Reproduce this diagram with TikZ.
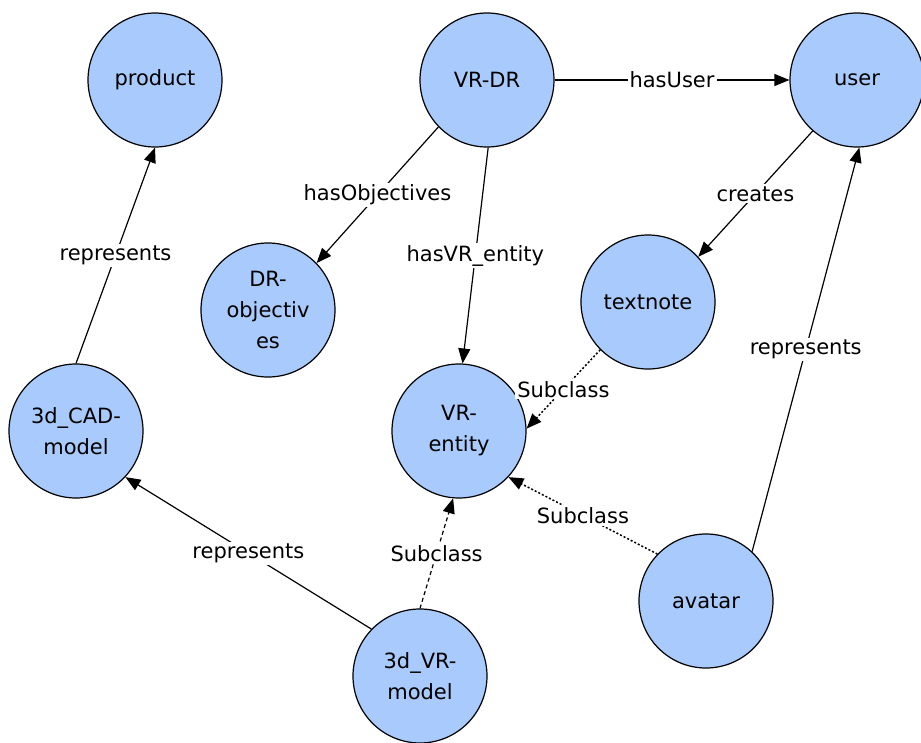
\documentclass[tikz,border=0pt]{standalone}
\usepackage{fontspec}
\setmainfont{DejaVu Sans}
\usetikzlibrary{arrows.meta}
\definecolor{nodeblue}{RGB}{168,202,252}
\tikzset{
  concept/.style={circle,draw,line width=1.2pt,fill=nodeblue,minimum size=134pt,
    inner sep=0pt,align=center,font=\fontsize{21}{31}\selectfont},
  rel/.style={-{Triangle[length=15pt,width=12pt]},line width=1.2pt},
  subdot/.style={rel,line width=1.5pt,dash pattern=on 2pt off 2pt},
  subdash/.style={rel,dash pattern=on 4pt off 3pt},
  lbl/.style={fill=white,inner sep=2pt,font=\fontsize{21}{25}\selectfont},
}
\begin{document}
\begin{tikzpicture}[x=1pt,y=-1pt]
\useasboundingbox (0,0) rectangle (921,742);
% concepts
\node[concept] (product) at (155,80) {product};
\node[concept] (vrdr) at (487,80) {VR-DR};
\node[concept] (user) at (857,80) {user};
\node[concept] (drobj) at (268,310) {DR-\\objectiv\\es};
\node[concept] (textnote) at (648,302) {textnote};
\node[concept] (vrentity) at (459,431) {VR-\\entity};
\node[concept] (cadmodel) at (76,431) {3d\_CAD-\\model};
\node[concept] (avatar) at (706,601) {avatar};
\node[concept] (vrmodel) at (420,676) {3d\_VR-\\model};
% relations
\draw[rel] (vrdr.east) -- node[lbl] {hasUser} (user.west);
\draw[rel] (vrdr.224) -- node[lbl] {hasObjectives} (drobj.44);
\draw[rel] (vrdr.271) -- node[lbl] {hasVR\_entity} (vrentity.87);
\draw[rel] (user.229) -- node[lbl] {creates} (textnote.42);
\draw[rel] (avatar.47) -- node[lbl] {represents} (user.272);
\draw[rel] (cadmodel.90) -- node[lbl] {represents} (product.270);
\draw[rel] (vrmodel.136) -- node[lbl] {represents} (cadmodel.317);
% subclasses
\draw[subdot] (textnote.225) -- node[lbl] {Subclass} (vrentity.2);
\draw[subdash] (vrmodel.90) -- node[lbl] {Subclass} (vrentity.265);
\draw[subdot] (avatar.136) -- node[lbl] {Subclass} (vrentity.317);
\end{tikzpicture}
\end{document}
